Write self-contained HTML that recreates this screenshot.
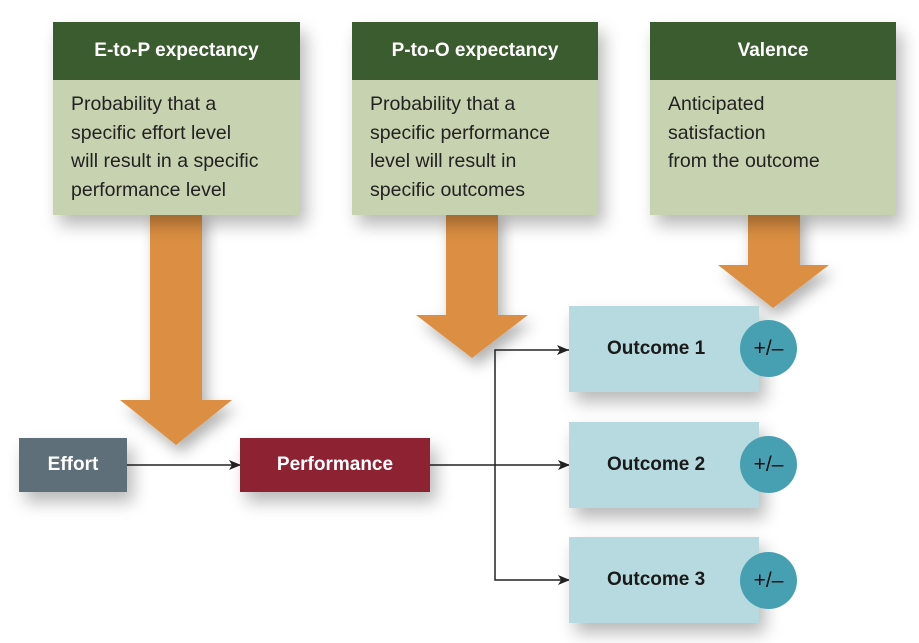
<!DOCTYPE html>
<html><head><style>
body{margin:0;width:919px;height:643px;background:#fff;position:relative;overflow:hidden;font-family:"Liberation Sans",sans-serif}
.b{position:absolute;box-shadow:6px 10px 16px rgba(0,0,0,0.28)}
.h{position:absolute;background:#3a5c2e;color:#fff;font-weight:bold;font-size:19px;text-align:center;line-height:58px;height:58px}
.t{position:absolute;background:#c7d3b0;color:#222;font-size:19.5px;line-height:28.5px;padding:10px 0 0 18px;box-sizing:border-box}
.o{position:absolute;background:#b6dadf;width:190px;height:86px;font-weight:bold;font-size:19px;color:#1a1a1a;line-height:86px;box-sizing:border-box;padding-left:38px}
.c{position:absolute;width:57px;height:57px;border-radius:50%;background:#479fb2;color:#111;font-size:21px;text-align:center;line-height:57px}
</style></head><body>
<svg width="919" height="643" style="position:absolute;left:0;top:0">
<defs><filter id="s"><feDropShadow dx="5" dy="8" stdDeviation="7" flood-opacity="0.3"/></filter>
<marker id="a" markerWidth="12" markerHeight="10" refX="11" refY="5" orient="auto" markerUnits="userSpaceOnUse"><path d="M0,0 L12,5 L0,10 L3,5z" fill="#222"/></marker></defs>
<g fill="#dc8f43" filter="url(#s)">
<path d="M150,210 H202 V400 H232 L176,445 L120,400 H150Z"/>
<path d="M446,210 H498 V315 H528 L472,358 L416,315 H446Z"/>
<path d="M748,210 H800 V265 H829 L773,308 L718,265 H748Z"/>
</g>
<g stroke="#222" stroke-width="1.5" fill="none">
<line x1="127" y1="465" x2="240" y2="465" marker-end="url(#a)"/>
<line x1="430" y1="465" x2="569" y2="465" marker-end="url(#a)"/>
<polyline points="569,350 495,350 495,580 569,580" marker-start="url(#a)" marker-end="url(#a)"/>
</g>
<path d="M569,350 l-12,-5 l3,5 l-3,5z" fill="#222"/>
</svg>
<div class="b" style="left:53px;top:22px;width:247px;height:193px"></div>
<div class="h" style="left:53px;top:22px;width:247px">E-to-P expectancy</div>
<div class="t" style="left:53px;top:80px;width:247px;height:135px">Probability that a<br>specific effort level<br>will result in a specific<br>performance level</div>
<div class="b" style="left:352px;top:22px;width:246px;height:193px"></div>
<div class="h" style="left:352px;top:22px;width:246px">P-to-O expectancy</div>
<div class="t" style="left:352px;top:80px;width:246px;height:135px">Probability that a<br>specific performance<br>level will result in<br>specific outcomes</div>
<div class="b" style="left:650px;top:22px;width:246px;height:193px"></div>
<div class="h" style="left:650px;top:22px;width:246px">Valence</div>
<div class="t" style="left:650px;top:80px;width:246px;height:135px">Anticipated<br>satisfaction<br>from the outcome</div>
<div class="b" style="left:19px;top:438px;width:108px;height:54px;background:#5f6f79;color:#fff;font-weight:bold;font-size:19px;line-height:54px;text-align:center">Effort</div>
<div class="b" style="left:240px;top:438px;width:190px;height:54px;background:#8c2232;color:#fff;font-weight:bold;font-size:19px;line-height:54px;text-align:center">Performance</div>
<div class="o b" style="left:569px;top:306px">Outcome 1</div>
<div class="o b" style="left:569px;top:422px">Outcome 2</div>
<div class="o b" style="left:569px;top:537px">Outcome 3</div>
<div class="c" style="left:740px;top:320px">+/–</div>
<div class="c" style="left:740px;top:436px">+/–</div>
<div class="c" style="left:740px;top:552px">+/–</div>
</body></html>
